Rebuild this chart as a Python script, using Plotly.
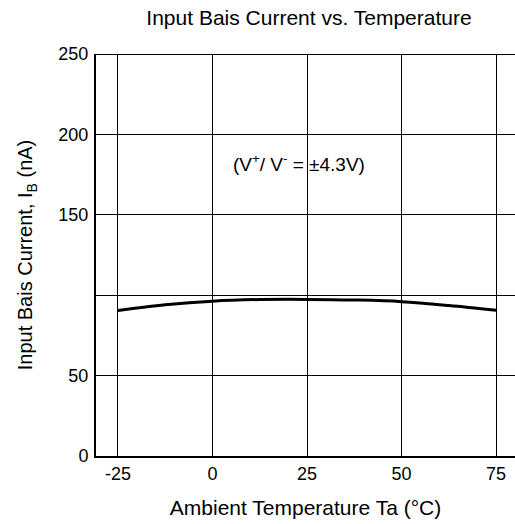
import plotly.graph_objects as go

temps = [-25, -12.5, 0, 12.5, 25, 37.5, 50, 62.5, 75]
ib_na = [90.5, 94.0, 96.3, 97.3, 97.4, 97.0, 96.0, 93.6, 90.6]

x_ticks = [-25, 0, 25, 50, 75]
x_labels = ["-25", "0", "25", "50", "75"]
y_ticks = [0, 50, 100, 150, 200, 250]
y_labels = ["0", "50", "", "150", "200", "250"]

font = "Liberation Sans, Arial, sans-serif"

fig = go.Figure()
fig.add_trace(go.Scatter(x=temps, y=ib_na, mode="lines",
                         line=dict(color="black", width=3, shape="spline"),
                         showlegend=False, hoverinfo="skip"))

fig.update_layout(
    width=515, height=524,
    margin=dict(l=96, r=0, t=54, b=68),
    paper_bgcolor="white", plot_bgcolor="white",
    font=dict(family=font, color="black"),
    title=dict(text="Input Bais Current vs. Temperature", x=0.6, xanchor="center",
               y=0.967, yanchor="middle", font=dict(size=21, family=font, color="black")),
    xaxis=dict(range=[-30.8, 80], tickvals=x_ticks, ticktext=x_labels, ticks="",
               showgrid=True, gridcolor="black", gridwidth=1, zeroline=False,
               showline=True, linecolor="black", linewidth=2,
               ticklabelstandoff=0,
               tickfont=dict(size=18), title=dict(text="Ambient Temperature Ta (°C)",
                                                   font=dict(size=21), standoff=18)),
    yaxis=dict(range=[0, 250], tickvals=y_ticks, ticktext=y_labels, ticks="",
               showgrid=True, gridcolor="black", gridwidth=1, zeroline=False,
               showline=True, linecolor="black", linewidth=2,
               ticklabelstandoff=2,
               tickfont=dict(size=18),
               title=dict(text="Input Bais Current, I<sub>B</sub> (nA)",
                          font=dict(size=20), standoff=20)),
    annotations=[dict(x=22.9, y=182, xref="x", yref="y",
                      text="(V<sup>+</sup>/ V<sup>-</sup> = ±4.3V)", showarrow=False,
                      font=dict(size=19, family=font, color="black"))],
)
fig.add_shape(type="line", xref="paper", yref="y", x0=0, x1=1, y0=250, y1=250,
              line=dict(color="black", width=2))

fig.write_html("out.html", config={"displayModeBar": False},
               post_script="document.body.style.margin='0';document.body.style.padding='0';")
